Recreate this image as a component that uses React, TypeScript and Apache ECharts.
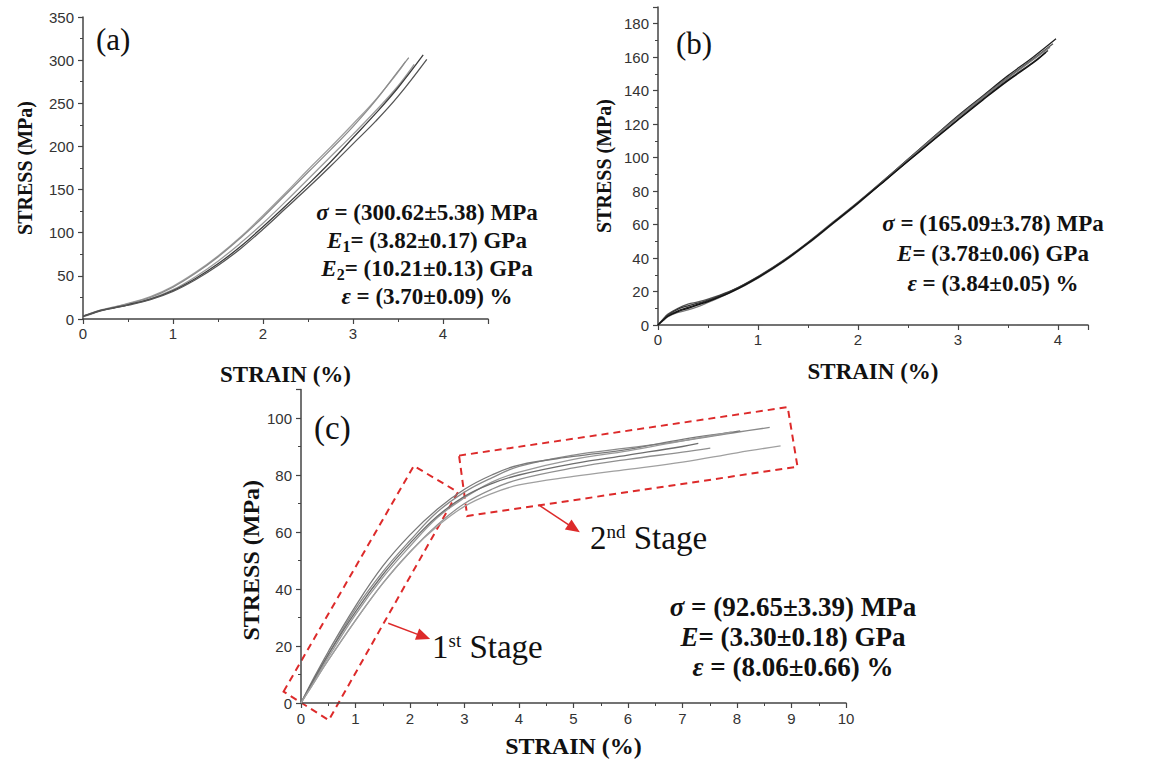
import React, { useEffect, useRef } from 'react';
import * as echarts from 'echarts';

// ---------- Panel (a) data: strain (%) vs stress (MPa) ----------
const curveA1: [number, number][] = [[0, 3], [0.1, 7], [0.2, 10.5], [0.35, 14], [0.5, 18], [0.75, 26], [1, 38], [1.25, 54], [1.5, 73], [1.75, 95], [2, 120], [2.25, 146], [2.5, 173], [2.75, 199], [3, 226], [3.25, 254], [3.5, 286], [3.58, 298]];
const curveA2: [number, number][] = [[0, 3], [0.1, 7], [0.2, 10.3], [0.35, 13.8], [0.5, 17.5], [0.75, 25], [1, 37], [1.25, 53], [1.5, 72], [1.75, 94], [2, 118], [2.25, 144], [2.5, 170], [2.75, 196], [3, 223], [3.25, 253], [3.5, 287], [3.62, 303]];
const curveA3: [number, number][] = [[0, 2.5], [0.1, 6], [0.2, 9.5], [0.35, 13], [0.5, 16.5], [0.75, 23.5], [1, 34], [1.25, 49], [1.5, 67], [1.75, 88], [2, 111], [2.25, 136], [2.5, 162], [2.75, 188], [3, 214], [3.25, 241], [3.5, 270], [3.68, 295]];
const curveA4: [number, number][] = [[0, 3], [0.1, 6.5], [0.2, 10], [0.35, 13.2], [0.5, 16.5], [0.75, 23], [1, 33], [1.25, 47], [1.5, 64], [1.75, 84], [2, 107], [2.25, 131], [2.5, 156], [2.75, 182], [3, 210], [3.25, 238], [3.5, 268], [3.78, 306]];
const curveA5: [number, number][] = [[0, 3.5], [0.1, 6.5], [0.2, 9.8], [0.35, 13], [0.5, 16], [0.75, 22.5], [1, 32], [1.25, 45.5], [1.5, 62], [1.75, 81.5], [2, 104], [2.25, 128], [2.5, 152], [2.75, 177], [3, 203], [3.25, 229], [3.5, 258], [3.82, 301]];

// ---------- Panel (b) data ----------
const curveB1: [number, number][] = [[0, 0], [0.05, 3], [0.1, 5.5], [0.2, 8.5], [0.3, 10.5], [0.4, 12.5], [0.5, 14.5], [0.75, 20.5], [1, 28.5], [1.25, 38], [1.5, 49], [1.75, 61], [2, 73], [2.25, 86], [2.5, 99], [2.75, 112], [3, 125], [3.25, 137], [3.5, 149], [3.75, 160], [3.98, 171]];
const curveB2: [number, number][] = [[0, 0], [0.05, 3.5], [0.1, 6.5], [0.2, 10], [0.3, 12.5], [0.4, 13.8], [0.5, 15.5], [0.75, 21], [1, 29], [1.25, 38.5], [1.5, 49.5], [1.75, 61.5], [2, 73.5], [2.25, 86], [2.5, 99], [2.75, 112], [3, 124.5], [3.25, 136.5], [3.5, 148], [3.75, 159], [3.95, 168]];
const curveB3: [number, number][] = [[0, 0], [0.05, 2.5], [0.1, 5], [0.2, 7.5], [0.3, 9], [0.4, 11], [0.5, 13.5], [0.75, 20], [1, 28], [1.25, 37.5], [1.5, 48.5], [1.75, 60.5], [2, 72.5], [2.25, 85.5], [2.5, 98.5], [2.75, 111.5], [3, 124], [3.25, 136], [3.5, 147.5], [3.75, 158.5], [3.92, 166]];
const curveB4: [number, number][] = [[0, 0], [0.05, 3], [0.1, 6], [0.2, 9.5], [0.3, 11.5], [0.4, 13], [0.5, 14.8], [0.75, 20.8], [1, 28.8], [1.25, 38.2], [1.5, 49.2], [1.75, 61], [2, 73], [2.25, 85.5], [2.5, 98], [2.75, 110.5], [3, 123], [3.25, 135], [3.5, 146.5], [3.75, 157], [3.9, 164]];
const curveB5: [number, number][] = [[0, 0], [0.05, 2.8], [0.1, 5.2], [0.2, 8], [0.3, 10], [0.4, 12], [0.5, 14], [0.75, 20.2], [1, 28.3], [1.25, 37.8], [1.5, 48.8], [1.75, 60.8], [2, 72.8], [2.25, 85.2], [2.5, 97.8], [2.75, 110.2], [3, 122.5], [3.25, 134.5], [3.5, 146], [3.75, 156.5], [3.88, 163]];

// ---------- Panel (c) data ----------
const curveC1: [number, number][] = [[0, 0], [0.2, 7], [0.5, 17], [1, 33], [1.5, 46], [2, 57], [2.5, 67], [3, 74], [3.5, 79], [4, 83], [5, 87], [6, 89.5], [7, 92], [8, 95], [8.6, 96.7]];
const curveC2: [number, number][] = [[0, 0], [0.2, 7.5], [0.5, 18], [1, 34], [1.5, 48], [2, 59], [2.5, 68], [3, 75], [3.5, 80], [4, 83.5], [5, 86.5], [6, 89], [7, 92.5], [8, 95.3], [8.06, 95.5]];
const curveC3: [number, number][] = [[0, 0], [0.2, 6.5], [0.5, 16], [1, 31], [1.5, 44], [2, 55], [2.5, 65], [3, 72], [3.5, 77.5], [4, 81], [5, 85.5], [6, 88.5], [7, 92], [7.9, 95]];
const curveC4: [number, number][] = [[0, 0], [0.2, 7], [0.5, 17], [1, 32], [1.5, 45], [2, 56], [2.5, 65.5], [3, 72.5], [3.5, 77], [4, 80], [5, 84], [6, 87], [7, 90], [7.29, 91.1]];
const curveC5: [number, number][] = [[0, 0], [0.2, 6], [0.5, 15], [1, 29], [1.5, 42], [2, 53], [2.5, 62.5], [3, 70], [3.5, 75], [4, 78.5], [5, 82.5], [6, 85.5], [7, 88], [7.51, 89.4]];
const curveC6: [number, number][] = [[0, 0], [0.2, 6], [0.5, 15], [1, 29], [1.5, 42], [2, 53], [2.5, 62], [3, 69], [3.5, 73.5], [4, 76.5], [5, 79.5], [6, 82], [7, 84.5], [8, 87.8], [8.8, 90.2]];

// Stage annotation boxes and arrows (data coordinates of panel c)
const stage1Box: [number, number][] = [[-0.32, 4], [2.07, 83.2], [2.88, 74], [0.51, -6]];
const stage2Box: [number, number][] = [[2.9, 86.8], [8.93, 103.8], [9.11, 82.9], [3.05, 65.6]];
const stage1Arrow: [number, number][] = [[1.6, 28], [2.25, 23.3]];
const stage2Arrow: [number, number][] = [[4.36, 69.5], [5.01, 61.3]];

const textA = ['σ|= (300.62±5.38) MPa', 'E|1|= (3.82±0.17) GPa', 'E|2|= (10.21±0.13) GPa', 'ε|= (3.70±0.09) %'];
const textB = ['σ|= (165.09±3.78) MPa', 'E||= (3.78±0.06) GPa', 'ε|= (3.84±0.05) %'];
const textC = ['σ|= (92.65±3.39) MPa', 'E||= (3.30±0.18) GPa', 'ε|= (8.06±0.66) %'];

const SERIF = '"Liberation Serif", "Times New Roman", serif';
const SANS = '"Liberation Sans", Arial, sans-serif';

function richLine(s: string): string {
  const parts = s.split('|');
  if (parts.length === 2) return `{i|${parts[0]}}{b| ${parts[1]}}`;
  return `{i|${parts[0]}}` + (parts[1] ? `{sub|${parts[1]}}` : '') + `{b|${parts[2]}}`;
}

function annRich(size: number) {
  return {
    i: { fontFamily: SERIF, fontWeight: 'bold', fontStyle: 'italic', fontSize: size, fill: '#111', verticalAlign: 'bottom' },
    b: { fontFamily: SERIF, fontWeight: 'bold', fontStyle: 'normal', fontSize: size, fill: '#111', verticalAlign: 'bottom' },
    sub: { fontFamily: SERIF, fontWeight: 'bold', fontStyle: 'normal', fontSize: Math.round(size * 0.68), fill: '#111', verticalAlign: 'bottom', padding: [0, 0, -3, 0] },
  };
}

function annBlock(lines: string[], cx: number, y0: number, dy: number, size: number) {
  return lines.map((l, k) => ({
    type: 'text',
    x: cx,
    y: y0 + k * dy,
    silent: true,
    style: { text: richLine(l), rich: annRich(size), align: 'center', verticalAlign: 'middle' },
  }));
}

function stageText(num: string, sup: string, x: number, y: number) {
  return {
    type: 'text', x, y, silent: true,
    style: {
      text: `{n|${num}}{s|${sup}}{n| Stage}`, verticalAlign: 'middle',
      rich: {
        n: { fontFamily: SERIF, fontWeight: 'normal', fontStyle: 'normal', fontSize: 33, fill: '#111', verticalAlign: 'bottom' },
        s: { fontFamily: SERIF, fontWeight: 'normal', fontStyle: 'normal', fontSize: 19, fill: '#111', verticalAlign: 'top' },
      },
    },
  };
}

function axisBase(interval: number, min: number, max: number, margin: number, showMax: boolean) {
  return {
    type: 'value',
    min,
    max,
    interval,
    splitLine: { show: false },
    axisLine: { show: true, onZero: false, lineStyle: { color: '#444', width: 1.5 } },
    axisTick: { show: true, inside: false, length: 5, lineStyle: { color: '#444', width: 1.2 } },
    minorTick: { show: true, splitNumber: 2, length: 3, lineStyle: { color: '#444', width: 1 } },
    axisLabel: { fontFamily: SANS, fontSize: 15, color: '#333', margin, showMaxLabel: showMax },
    nameLocation: 'middle',
  };
}

const xName = { fontFamily: SERIF, fontWeight: 'bold', fontSize: 23, color: '#111' };
const yName = { fontFamily: SERIF, fontWeight: 'bold', fontSize: 20, color: '#111' };

function curveSeries(data: [number, number][], idx: number, color: string, extra: any = {}) {
  return {
    type: 'line',
    xAxisIndex: idx,
    yAxisIndex: idx,
    data,
    smooth: 0.4,
    showSymbol: false,
    symbol: 'none',
    silent: true,
    lineStyle: { color, width: 1.3 },
    ...extra,
  };
}

const RED = '#dd2a2a';

export default function App() {
  const ref = useRef<HTMLDivElement>(null);
  useEffect(() => {
    if (!ref.current) return;
    const chart = echarts.init(ref.current, null, { renderer: 'svg' });
    const arrowMark = {
      markLine: {
        silent: true, symbol: ['none', 'triangle'], symbolSize: [12, 14], label: { show: false },
        lineStyle: { color: RED, width: 1.5, type: 'solid' },
        emphasis: { disabled: true },
        data: [
          [{ coord: stage1Arrow[0] }, { coord: stage1Arrow[1] }],
          [{ coord: stage2Arrow[0] }, { coord: stage2Arrow[1] }],
        ],
      },
    };
    const option: any = {
      animation: false,
      backgroundColor: '#ffffff',
      grid: [
        { left: 83, top: 17, width: 405, height: 302 },
        { left: 658, top: 7, width: 430, height: 318 },
        { left: 301, top: 389.5, width: 545, height: 313.5 },
      ],
      xAxis: [
        { ...axisBase(1, 0, 4.5, 7, false), gridIndex: 0, name: 'STRAIN (%)', nameGap: 44, nameTextStyle: xName },
        { ...axisBase(1, 0, 4.3, 7, false), gridIndex: 1, name: 'STRAIN (%)', nameGap: 35, nameTextStyle: xName },
        { ...axisBase(1, 0, 10, 8, true), gridIndex: 2, name: 'STRAIN (%)', nameGap: 31, nameTextStyle: { ...xName, fontSize: 24 } },
      ],
      yAxis: [
        { ...axisBase(50, 0, 350, 9, true), gridIndex: 0, name: 'STRESS (MPa)', nameGap: 48, nameTextStyle: yName },
        { ...axisBase(20, 0, 190, 9, false), gridIndex: 1, name: 'STRESS (MPa)', nameGap: 44, nameTextStyle: yName },
        { ...axisBase(20, 0, 110, 9, false), gridIndex: 2, name: 'STRESS (MPa)', nameGap: 28, nameTextStyle: { ...yName, fontSize: 24, padding: [0, 28, 0, 0] } },
      ],
      series: [
        curveSeries(curveA1, 0, '#a0a0a0'),
        curveSeries(curveA2, 0, '#8c8c8c'),
        curveSeries(curveA3, 0, '#9a9a9a'),
        curveSeries(curveA4, 0, '#3c3c3c'),
        curveSeries(curveA5, 0, '#555555'),
        curveSeries(curveB1, 1, '#222222'),
        curveSeries(curveB2, 1, '#555555'),
        curveSeries(curveB3, 1, '#777777'),
        curveSeries(curveB4, 1, '#333333'),
        curveSeries(curveB5, 1, '#111111'),
        curveSeries(curveC1, 2, '#8a8a8a'),
        curveSeries(curveC2, 2, '#7a7a7a'),
        curveSeries(curveC3, 2, '#999999'),
        curveSeries(curveC4, 2, '#6e6e6e'),
        curveSeries(curveC5, 2, '#8f8f8f'),
        curveSeries(curveC6, 2, '#a0a0a0', arrowMark),
      ],
    };
    chart.setOption(option);

    const toPx = (pts: [number, number][]) =>
      pts.map((p) => chart.convertToPixel({ gridIndex: 2 } as any, p) as number[]);
    const boxStyle = { stroke: RED, lineWidth: 2, lineDash: [7, 5], fill: 'none' };

    chart.setOption({
      graphic: [
        { type: 'polygon', silent: true, shape: { points: toPx(stage1Box) }, style: boxStyle },
        { type: 'polygon', silent: true, shape: { points: toPx(stage2Box) }, style: boxStyle },
        { type: 'text', x: 96, y: 39, silent: true, style: { text: '(a)', font: `31px ${SERIF}`, fill: '#111', verticalAlign: 'middle' } },
        { type: 'text', x: 676, y: 43, silent: true, style: { text: '(b)', font: `31px ${SERIF}`, fill: '#111', verticalAlign: 'middle' } },
        { type: 'text', x: 314, y: 428, silent: true, style: { text: '(c)', font: `33px ${SERIF}`, fill: '#111', verticalAlign: 'middle' } },
        ...annBlock(textA, 427, 212, 28, 23),
        ...annBlock(textB, 993, 223, 30, 23),
        ...annBlock(textC, 793, 607, 30, 27),
        stageText('1', 'st', 432, 647),
        stageText('2', 'nd', 590, 538),
      ],
    });
    return () => chart.dispose();
  }, []);
  return (
    <div
      ref={ref}
      style={{ position: 'absolute', left: 0, top: 0, width: 1150, height: 772, background: '#fff' }}
    />
  );
}
